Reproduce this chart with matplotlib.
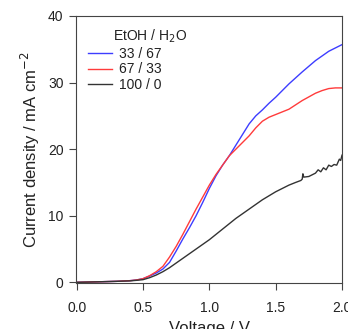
import matplotlib
matplotlib.use('Agg')
import matplotlib.pyplot as plt

plt.rcParams['font.family'] = ['Liberation Sans', 'DejaVu Sans']

# Data
volt_33 = [0.0, 0.1, 0.2, 0.3, 0.4, 0.45, 0.5, 0.55, 0.6, 0.65, 0.7, 0.75, 0.8, 0.85,
           0.9, 0.95, 1.0, 1.05, 1.1, 1.15, 1.2, 1.25, 1.3, 1.35, 1.4, 1.45, 1.5,
           1.6, 1.7, 1.8, 1.9, 2.0]
curr_33 = [0.0, 0.05, 0.1, 0.15, 0.25, 0.35, 0.55, 0.95, 1.4, 2.0, 3.0, 4.7, 6.5, 8.2,
           10.0, 12.0, 14.1, 16.0, 17.6, 19.0, 20.6, 22.2, 23.8, 25.0, 25.9, 26.9, 27.8,
           29.8, 31.6, 33.3, 34.7, 35.7]

volt_67 = [0.0, 0.1, 0.2, 0.3, 0.4, 0.45, 0.5, 0.55, 0.6, 0.65, 0.7, 0.75, 0.8, 0.85,
           0.9, 0.95, 1.0, 1.05, 1.1, 1.15, 1.2, 1.25, 1.3, 1.35, 1.4, 1.45, 1.5,
           1.6, 1.7, 1.8, 1.85, 1.9, 1.95, 2.0]
curr_67 = [0.0, 0.05, 0.1, 0.15, 0.25, 0.35, 0.55, 1.0, 1.6, 2.4, 3.8, 5.4, 7.2, 9.1,
           11.0, 12.8, 14.6, 16.2, 17.6, 19.0, 20.0, 21.0, 22.0, 23.2, 24.2, 24.8, 25.2,
           26.0, 27.3, 28.4, 28.8, 29.1, 29.2, 29.2]

volt_100 = [0.0, 0.1, 0.2, 0.3, 0.4, 0.45, 0.5, 0.55, 0.6, 0.65, 0.7, 0.75, 0.8, 0.85,
            0.9, 0.95, 1.0, 1.05, 1.1, 1.15, 1.2, 1.25, 1.3, 1.35, 1.4, 1.45, 1.5,
            1.55, 1.6, 1.65, 1.69, 1.70, 1.705, 1.712, 1.75, 1.78, 1.8, 1.82, 1.84,
            1.86, 1.88, 1.9, 1.92, 1.94, 1.96, 1.98, 1.99, 2.0]
curr_100 = [0.0, 0.05, 0.1, 0.15, 0.22, 0.3, 0.4, 0.7, 1.1, 1.6, 2.2, 2.9, 3.6, 4.3,
            5.0, 5.7, 6.4, 7.2, 8.0, 8.8, 9.6, 10.3, 11.0, 11.7, 12.4, 13.0, 13.6,
            14.1, 14.6, 15.0, 15.3, 15.5, 16.3, 15.8, 15.9, 16.2, 16.4, 16.9, 16.6,
            17.2, 16.9, 17.6, 17.4, 17.7, 17.6, 18.5, 18.3, 19.1]

labels = ['33 / 67', '67 / 33', '100 / 0']
legend_title = 'EtOH / H$_2$O'
colors = ['#3d3dff', '#ff3b3b', '#333333']

fig = plt.figure(figsize=(3.48, 3.29), dpi=100)
ax = fig.add_axes([0.2184, 0.1398, 0.7644, 0.8116])

ax.plot(volt_33, curr_33, color=colors[0], lw=1.0, label=labels[0])
ax.plot(volt_67, curr_67, color=colors[1], lw=1.0, label=labels[1])
ax.plot(volt_100, curr_100, color=colors[2], lw=1.0, label=labels[2])

ax.set_xlim(-0.005, 2.0)
ax.set_ylim(-0.1, 40)
ax.set_xticks([0.0, 0.5, 1.0, 1.5, 2.0])
ax.set_xticklabels(['0.0', '0.5', '1.0', '1.5', '2.0'])
ax.set_yticks([0, 10, 20, 30, 40])

for s in ax.spines.values():
    s.set_color('#444444')
    s.set_linewidth(0.8)
ax.tick_params(direction='out', length=5, width=0.8, color='#444444',
               labelsize=10, labelcolor='#222222')
ax.tick_params(axis='x', pad=8)
ax.tick_params(axis='y', pad=4)

ax.set_xlabel('Voltage / V', fontsize=12, color='#222222', labelpad=4)
ax.set_ylabel('Current density / mA cm$^{-2}$', fontsize=12, color='#222222', labelpad=4)

# legend title sits offset to the right, like the original
ax.text(0.139, 0.925, legend_title, transform=ax.transAxes, fontsize=10,
        color='#222222', ha='left', va='center')
ax.legend(loc='upper left', bbox_to_anchor=(0.045, 0.885), frameon=False,
          fontsize=10, handlelength=1.7, handletextpad=0.5, labelspacing=0.12,
          borderpad=0, borderaxespad=0, labelcolor='#222222')

fig.savefig('out.png', dpi=100)
